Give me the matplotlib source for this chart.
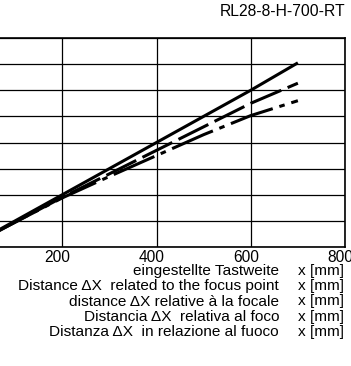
import matplotlib
matplotlib.use("Agg")
import matplotlib.pyplot as plt
import matplotlib.transforms as mtransforms

plt.rcParams['font.family'] = ['Liberation Sans', 'DejaVu Sans']
plt.rcParams['lines.scale_dashes'] = False

# data
x_mm = [0, 100, 200, 300, 400, 500, 600, 700]
solid_series = [0, 10, 20, 30, 40, 50, 60, 70.5]
dashed_series = [0, 9.5, 19, 28, 37, 46, 55, 62.7]
dashdot_series = [0, 9.5, 18.8, 27, 35, 43, 50.3, 56]
xticks = [200, 400, 600, 800]
xtick_labels = ["200", "400", "600", "800"]
title = "RL28-8-H-700-RT"
caption_left = ["eingestellte Tastweite",
                "Distance \u0394X  related to the focus point",
                "distance \u0394X relative \u00e0 la focale",
                "Distancia \u0394X  relativa al foco",
                "Distanza \u0394X  in relazione al fuoco"]
caption_right = ["x [mm]"] * 5

W, H = 351, 366
fig = plt.figure(figsize=(W / 100, H / 100), dpi=100)

def fx(px):
    return px / W

def fy(py):
    return 1 - py / H

# axes: x=0 at px -32, x=800 at px 345; top 38, bottom 247
left_px, right_px, top_px, bot_px = -32, 345, 38, 247
ax = fig.add_axes([fx(left_px), fy(bot_px), (right_px - left_px) / W, (bot_px - top_px) / H])
ax.set_xlim(0, 800)
ax.set_ylim(0, 80)
ax.set_xticks([0] + xticks)
ax.set_xticklabels([""] + xtick_labels, fontsize=11.2)
ax.set_yticks(range(0, 81, 10))
ax.set_yticklabels([])
ax.tick_params(length=0, pad=2.0)
ax.grid(True, color='black', linewidth=0.9)
ax.set_axisbelow(True)
for s in ax.spines.values():
    s.set_linewidth(1.2)
    s.set_color('black')

offset = mtransforms.ScaledTranslation(-5 / 100, 0, fig.dpi_scale_trans)
for lab in ax.get_xticklabels():
    lab.set_transform(lab.get_transform() + offset)

ax.plot(x_mm, solid_series, color='black', linewidth=2.2, solid_capstyle='butt')
ax.plot(x_mm, dashed_series, color='black', linewidth=2.2, linestyle=(0, (24, 5)), dash_capstyle='butt')
ax.plot(x_mm, dashdot_series, color='black', linewidth=2.2, linestyle=(0, (32, 5, 4, 5)), dash_capstyle='butt')

fig.text(fx(345), fy(12), title, ha='right', va='center', fontsize=11.3)

ys = [271.2, 286.3, 301.5, 316.8, 332.0]
for t1, t2, y in zip(caption_left, caption_right, ys):
    fig.text(fx(279), fy(y), t1, ha='right', va='center', fontsize=11.1)
    fig.text(fx(297.5), fy(y), t2, ha='left', va='center', fontsize=11.1)

fig.savefig("out.png", dpi=100)
